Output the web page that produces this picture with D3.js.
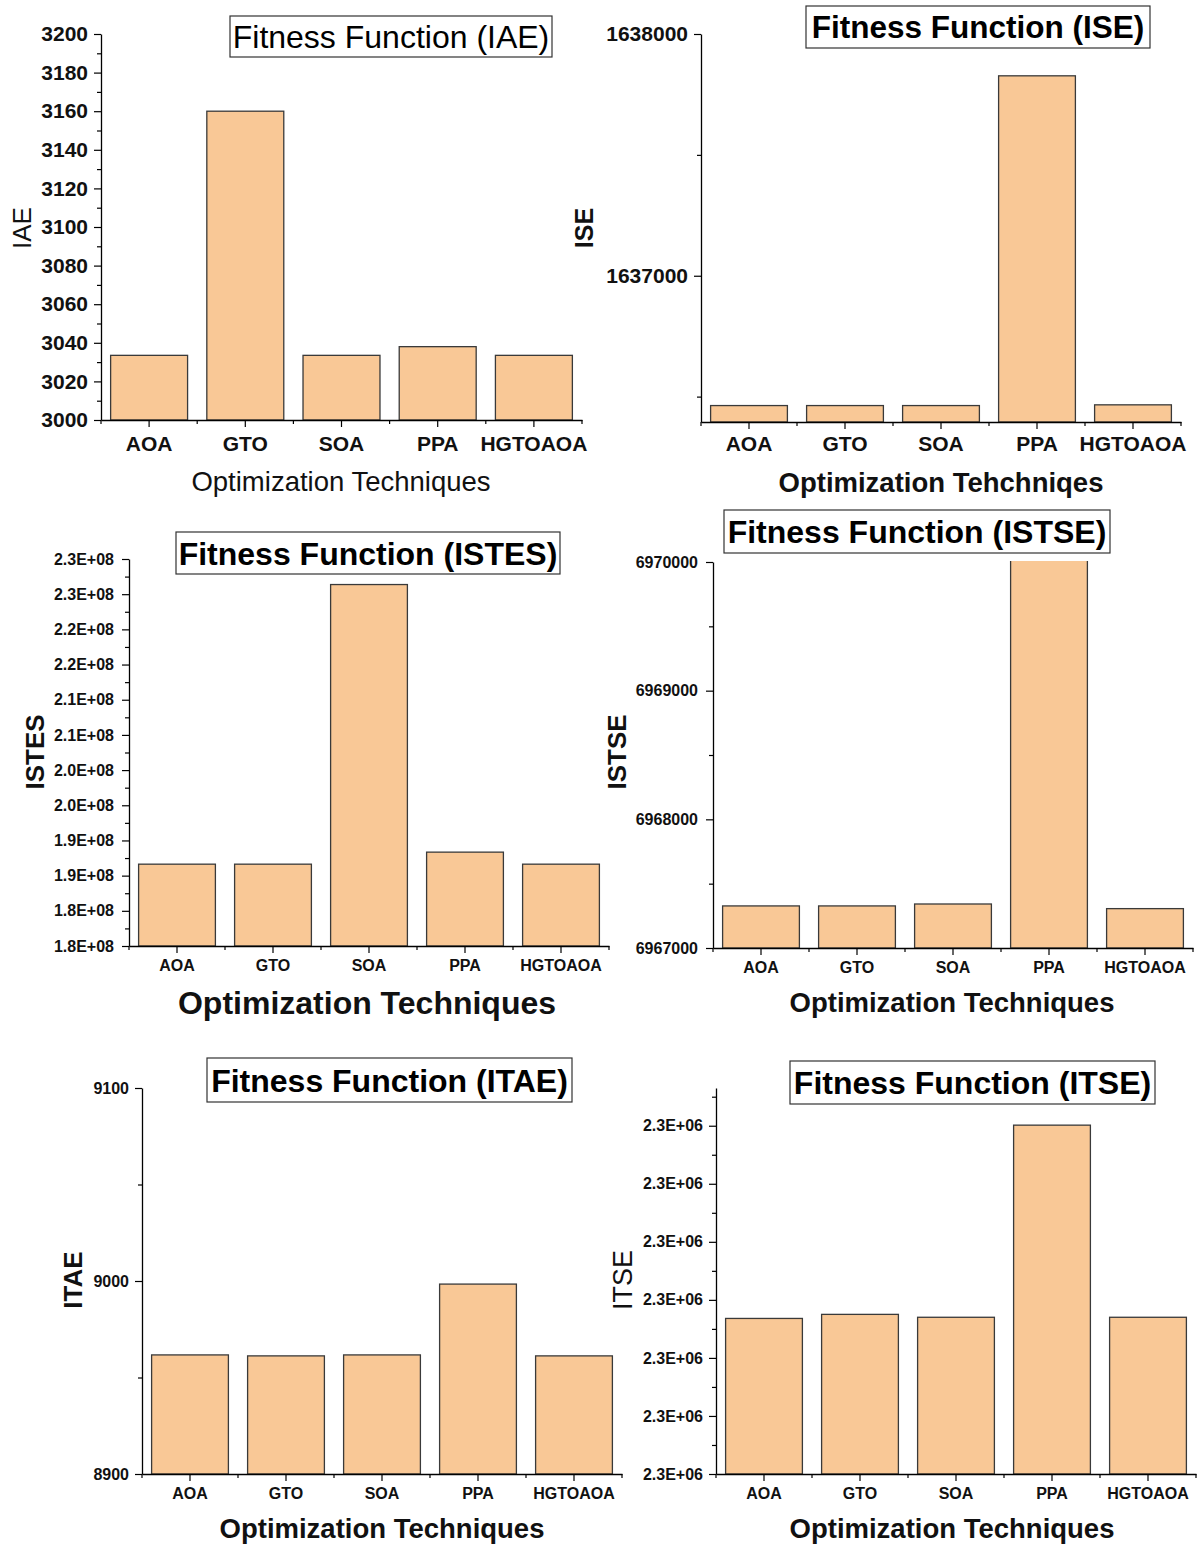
<!DOCTYPE html>
<html>
<head>
<meta charset="utf-8">
<script src="https://cdn.jsdelivr.net/npm/d3@7"></script>
<style>
  body { margin: 0; background: #ffffff; }
  svg { display: block; font-family: "Liberation Sans", Arial, sans-serif; }
</style>
</head>
<body>
<div id="chart"></div>
<script>
// categories shared by every panel
const techniques = ['AOA', 'GTO', 'SOA', 'PPA', 'HGTOAOA'];

// values
const iaeValues = [3033.5, 3160, 3033.5, 3038, 3033.5];
const iseValues = [1636463, 1636463, 1636463, 1637827, 1636466];
const istesValues = [1.9163e8, 1.9163e8, 2.3137e8, 1.9334e8, 1.9163e8];
const istseValues = [6967327, 6967327, 6967342, 6970050, 6967306];
const itaeValues = [8961.7, 8961.2, 8961.7, 8998.4, 8961.2];
const itseValues = [2300026.8, 2300027.5, 2300027.0, 2300060.1, 2300027.0];

// y ticks and their labels
const iaeTicks = [3000, 3020, 3040, 3060, 3080, 3100, 3120, 3140, 3160, 3180, 3200];
const iseTicks = [1637000, 1638000];
const istesTicks = [1.80e8, 1.85e8, 1.90e8, 1.95e8, 2.00e8, 2.05e8, 2.10e8, 2.15e8, 2.20e8, 2.25e8, 2.30e8, 2.35e8];
const istesTickLabels = ['1.8E+08', '1.8E+08', '1.9E+08', '1.9E+08', '2.0E+08', '2.0E+08',
                         '2.1E+08', '2.1E+08', '2.2E+08', '2.2E+08', '2.3E+08', '2.3E+08'];
const istseTicks = [6967000, 6968000, 6969000, 6970000];
const itaeTicks = [8900, 9000, 9100];
const itseTicks = [2300000, 2300010, 2300020, 2300030, 2300040, 2300050, 2300060];
const itseTickLabels = ['2.3E+06', '2.3E+06', '2.3E+06', '2.3E+06', '2.3E+06', '2.3E+06', '2.3E+06'];

const barFill = '#f9c896';
const barStroke = '#3a3a3a';

const svg = d3.select('#chart')
    .append('svg')
    .attr('width', 1197)
    .attr('height', 1544);

const panels = [
    {
        id: 'iae', values: iaeValues, ticks: iaeTicks, step: 20, domain: [3000, 3200],
        left: 101, right: 582, top: 34, bottom: 420,
        tickFont: 21, tickPad: 6, catFont: 21, catY: 451,
        title: 'Fitness Function (IAE)', titleBold: false, titleFont: 32, box: [230, 552, 16, 57],
        yLabel: 'IAE', yLabelBold: false, yLabelFont: 26, yLabelX: 22, yLabelY: 228,
        xLabel: 'Optimization Techniques', xLabelBold: false, xLabelFont: 27.5, xLabelX: 341, xLabelY: 491
    },
    {
        id: 'ise', values: iseValues, ticks: iseTicks, step: 1000, domain: [1636395, 1638000],
        left: 701, right: 1181, top: 34, bottom: 422,
        tickFont: 21, tickPad: 6, catFont: 21, catY: 451,
        title: 'Fitness Function (ISE)', titleBold: true, titleFont: 31.5, box: [806, 1150, 6, 48],
        yLabel: 'ISE', yLabelBold: true, yLabelFont: 25, yLabelX: 584, yLabelY: 228,
        xLabel: 'Optimization Tehchniqes', xLabelBold: true, xLabelFont: 27.5, xLabelX: 941, xLabelY: 492
    },
    {
        id: 'istes', values: istesValues, ticks: istesTicks, tickLabels: istesTickLabels, step: 5e6,
        domain: [1.80e8, 2.35e8],
        left: 129, right: 609, top: 559, bottom: 946,
        tickFont: 16, tickPad: 8, catFont: 16, catY: 971,
        title: 'Fitness Function (ISTES)', titleBold: true, titleFont: 32, box: [176, 560, 532, 574],
        yLabel: 'ISTES', yLabelBold: true, yLabelFont: 26, yLabelX: 35, yLabelY: 752,
        xLabel: 'Optimization Techniques', xLabelBold: true, xLabelFont: 32, xLabelX: 367, xLabelY: 1014
    },
    {
        id: 'istse', values: istseValues, ticks: istseTicks, step: 1000, domain: [6967000, 6970000],
        left: 713, right: 1193, top: 562, bottom: 948,
        tickFont: 16, tickPad: 8, catFont: 16, catY: 973,
        title: 'Fitness Function (ISTSE)', titleBold: true, titleFont: 32, box: [724, 1110, 510, 553],
        yLabel: 'ISTSE', yLabelBold: true, yLabelFont: 26, yLabelX: 617, yLabelY: 752,
        xLabel: 'Optimization Techniques', xLabelBold: true, xLabelFont: 27.5, xLabelX: 952, xLabelY: 1012
    },
    {
        id: 'itae', values: itaeValues, ticks: itaeTicks, step: 100, domain: [8900, 9100],
        left: 142, right: 622, top: 1088, bottom: 1474,
        tickFont: 16, tickPad: 6, catFont: 16, catY: 1499,
        title: 'Fitness Function (ITAE)', titleBold: true, titleFont: 32, box: [207, 572, 1058, 1102],
        yLabel: 'ITAE', yLabelBold: true, yLabelFont: 26, yLabelX: 73, yLabelY: 1280,
        xLabel: 'Optimization Techniques', xLabelBold: true, xLabelFont: 27.5, xLabelX: 382, xLabelY: 1538
    },
    {
        id: 'itse', values: itseValues, ticks: itseTicks, tickLabels: itseTickLabels, step: 10,
        domain: [2300000, 2300066.5],
        left: 716, right: 1196, top: 1088, bottom: 1474,
        tickFont: 16, tickPad: 6, catFont: 16, catY: 1499,
        title: 'Fitness Function (ITSE)', titleBold: true, titleFont: 32, box: [790, 1155, 1061, 1104],
        yLabel: 'ITSE', yLabelBold: false, yLabelFont: 27, yLabelX: 622, yLabelY: 1280,
        xLabel: 'Optimization Techniques', xLabelBold: true, xLabelFont: 27.5, xLabelX: 952, xLabelY: 1538
    }
];

panels.forEach(drawPanel);

function drawPanel(p) {
    const g = svg.append('g').attr('class', 'panel-' + p.id);

    const x = d3.scaleBand()
        .domain(techniques)
        .range([p.left, p.right])
        .paddingInner(0.2)
        .paddingOuter(0.1);

    const y = d3.scaleLinear()
        .domain(p.domain)
        .range([p.bottom, p.top]);

    // clip so bars running past the top of the axis get cut off
    g.append('clipPath')
        .attr('id', 'clip-' + p.id)
        .append('rect')
        .attr('x', p.left)
        .attr('y', p.top - 1)
        .attr('width', p.right - p.left)
        .attr('height', p.bottom - p.top + 1);

    // bars
    g.append('g')
        .attr('clip-path', `url(#clip-${p.id})`)
        .selectAll('rect')
        .data(p.values)
        .enter().append('rect')
        .attr('x', (d, i) => x(techniques[i]))
        .attr('y', d => y(d))
        .attr('width', x.bandwidth())
        .attr('height', d => p.bottom - y(d))
        .attr('fill', barFill)
        .attr('stroke', barStroke)
        .attr('stroke-width', 1.3);

    // minor y ticks halfway between the major ones
    const minor = [];
    p.ticks.forEach(t => {
        [t - p.step / 2, t + p.step / 2].forEach(m => {
            if (m >= p.domain[0] && m <= p.domain[1] && !minor.includes(m)) minor.push(m);
        });
    });
    g.append('g')
        .attr('transform', `translate(${p.left},0)`)
        .call(d3.axisLeft(y).tickValues(minor).tickSize(4).tickFormat('').tickSizeOuter(0))
        .call(s => s.select('.domain').remove())
        .selectAll('line').attr('stroke', '#000').attr('stroke-width', 1.2);

    // y axis
    const yAxis = d3.axisLeft(y)
        .tickValues(p.ticks)
        .tickSize(7)
        .tickSizeOuter(0)
        .tickPadding(p.tickPad)
        .tickFormat((d, i) => p.tickLabels ? p.tickLabels[i] : d3.format('d')(d));

    const yg = g.append('g')
        .attr('transform', `translate(${p.left},0)`)
        .call(yAxis);
    yg.select('.domain').attr('stroke', '#000').attr('stroke-width', 1.3);
    yg.selectAll('.tick line').attr('stroke', '#000').attr('stroke-width', 1.2);
    yg.selectAll('text')
        .attr('fill', '#111')
        .style('font-family', '"Liberation Sans", Arial, sans-serif')
        .style('font-weight', 'bold')
        .style('font-size', p.tickFont + 'px');

    // x axis with ticks at the category centres
    const xg = g.append('g')
        .attr('transform', `translate(0,${p.bottom})`)
        .call(d3.axisBottom(x).tickSize(7).tickSizeOuter(0).tickFormat(''));
    xg.select('.domain').attr('stroke', '#000').attr('stroke-width', 1.3);
    xg.selectAll('.tick line').attr('stroke', '#000').attr('stroke-width', 1.2);

    // short ticks on the band boundaries
    const gap = (x.step() - x.bandwidth()) / 2;
    const bounds = techniques.map(c => x(c) - gap).concat([p.right]);
    xg.selectAll('.bound')
        .data(bounds)
        .enter().append('line')
        .attr('class', 'bound')
        .attr('x1', d => d).attr('x2', d => d)
        .attr('y1', 0).attr('y2', 4)
        .attr('stroke', '#000')
        .attr('stroke-width', 1.2);

    // category labels
    g.append('g')
        .selectAll('text')
        .data(techniques)
        .enter().append('text')
        .attr('x', d => x(d) + x.bandwidth() / 2)
        .attr('y', p.catY)
        .attr('text-anchor', 'middle')
        .style('font-weight', 'bold')
        .style('font-size', p.catFont + 'px')
        .attr('fill', '#111')
        .text(d => d);

    // title box
    const [bx0, bx1, by0, by1] = p.box;
    g.append('rect')
        .attr('x', bx0).attr('y', by0)
        .attr('width', bx1 - bx0).attr('height', by1 - by0)
        .attr('fill', '#fff')
        .attr('stroke', '#333')
        .attr('stroke-width', 1.2);
    g.append('text')
        .attr('x', (bx0 + bx1) / 2)
        .attr('y', (by0 + by1) / 2)
        .attr('dy', '0.36em')
        .attr('text-anchor', 'middle')
        .style('font-size', p.titleFont + 'px')
        .style('font-weight', p.titleBold ? 'bold' : 'normal')
        .attr('fill', '#000')
        .text(p.title);

    // axis titles
    g.append('text')
        .attr('transform', `translate(${p.yLabelX},${p.yLabelY}) rotate(-90)`)
        .attr('dy', '0.36em')
        .attr('text-anchor', 'middle')
        .style('font-size', p.yLabelFont + 'px')
        .style('font-weight', p.yLabelBold ? 'bold' : 'normal')
        .attr('fill', '#111')
        .text(p.yLabel);

    g.append('text')
        .attr('x', p.xLabelX)
        .attr('y', p.xLabelY)
        .attr('text-anchor', 'middle')
        .style('font-size', p.xLabelFont + 'px')
        .style('font-weight', p.xLabelBold ? 'bold' : 'normal')
        .attr('fill', '#111')
        .text(p.xLabel);
}
</script>
</body>
</html>
